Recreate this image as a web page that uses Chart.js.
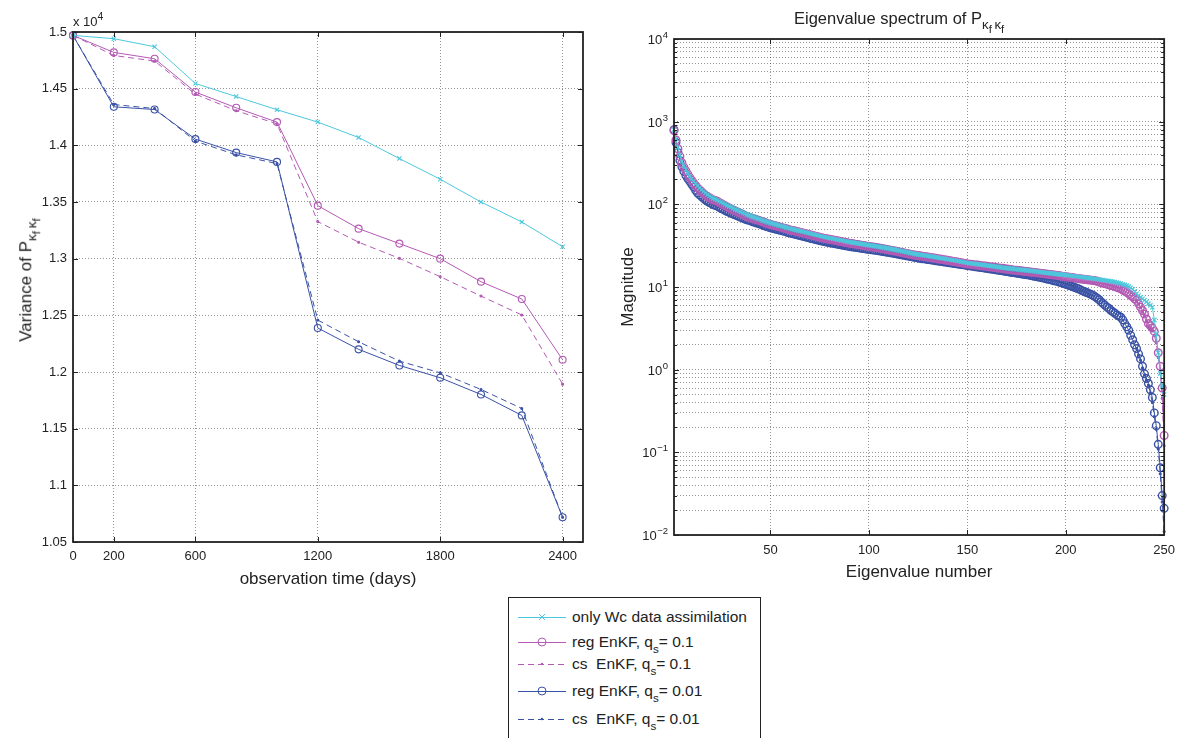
<!DOCTYPE html>
<html>
<head>
<meta charset="utf-8">
<title>Variance and eigenvalue spectrum of P</title>
<script src="https://cdn.jsdelivr.net/npm/chart.js@4.4.1/dist/chart.umd.min.js"></script>
<style>
  body { margin: 0; background: #fff; font-family: "Liberation Sans", Arial, sans-serif; color: #222; }
  #page { position: relative; width: 1183px; height: 738px; overflow: hidden; }
  canvas { position: absolute; top: 0; }
  #leftChart { left: 0; }
  #rightChart { left: 600px; }
  .txt { position: absolute; white-space: nowrap; line-height: 1; }
  .txt sub { font-size: 80%; vertical-align: -0.4em; line-height: 0; }
  .txt sub sub { font-size: 85%; vertical-align: -0.35em; }
  .txt sup { font-size: 80%; vertical-align: 0.6em; line-height: 0; }
  #legend { position: absolute; left: 508px; top: 597px; width: 251px; height: 160px; border: 1px solid #222; background: #fff; }
  #legend .row { position: absolute; left: 9px; height: 20px; display: flex; align-items: center; font-size: 15.5px; white-space: nowrap; }
  #legend .row svg { margin-right: 6px; }
  #legend sub { font-size: 75%; vertical-align: -0.55em; line-height: 0; }
</style>
</head>
<body>
<div id="page">
  <canvas id="leftChart" width="600" height="600"></canvas>
  <canvas id="rightChart" width="583" height="600"></canvas>
  <div class="txt" style="left:73px; top:15px; font-size:13px;">x 10<sup>4</sup></div>
  <div class="txt" style="left:27px; top:280px; font-size:17px; transform:translate(-50%,-50%) rotate(-90deg);">Variance of P<sub>&kappa;<sub>f</sub>&thinsp;&kappa;<sub>f</sub></sub></div>
  <div class="txt" style="left:794px; top:10px; font-size:16.5px;">Eigenvalue spectrum of P<sub>&kappa;<sub>f</sub>&thinsp;&kappa;<sub>f</sub></sub></div>
  <div id="legend"></div>
</div>

<script>
// ---- left panel: variance vs observation time (values in units of 10^4) ----
var obsDays = [0, 200, 400, 600, 800, 1000, 1200, 1400, 1600, 1800, 2000, 2200, 2400];
var varOnlyWc = [1.497, 1.4941, 1.487, 1.4546, 1.443, 1.4314, 1.4205, 1.4069, 1.3883, 1.3701, 1.350, 1.3324, 1.3105];
var varRegQ1  = [1.497, 1.482, 1.4764, 1.447, 1.4331, 1.4205, 1.3468, 1.3265, 1.3133, 1.300, 1.2797, 1.2644, 1.2108];
var varCsQ1   = [1.497, 1.4793, 1.4744, 1.4452, 1.4305, 1.419, 1.3327, 1.3145, 1.3003, 1.2841, 1.267, 1.2503, 1.1893];
var varRegQ01 = [1.497, 1.434, 1.4316, 1.4055, 1.3936, 1.3854, 1.2388, 1.22, 1.2058, 1.1949, 1.1802, 1.1617, 1.0718];
var varCsQ01  = [1.497, 1.436, 1.4325, 1.4037, 1.3916, 1.3839, 1.2458, 1.2267, 1.2096, 1.1993, 1.1846, 1.1678, 1.0718];
var dayTicks = [0, 200, 600, 1200, 1800, 2400];
var varTicks = [1.05, 1.1, 1.15, 1.2, 1.25, 1.3, 1.35, 1.4, 1.45, 1.5];

// ---- right panel: eigenvalue spectrum, eigenvalue number 1..250 ----
var eigOnlyWc = [
  800,620,490,395,330,292,264,240,220,204,
  190,178,168,158,150,143,137,131,126,122,
  118,115,112,109,106,103,100,97,94.5,92,
  89.5,87,85,83,81,79,77,75,73.5,72,
  70.5,69,68,66.5,65.5,64,63,61.5,60.5,59.5,
  58.6,57.7,56.8,55.9,55,54.2,53.4,52.6,51.8,51,
  50.4,49.7,49.1,48.4,47.8,47.2,46.5,45.9,45.3,44.7,
  44.1,43.5,42.9,42.3,41.7,41.1,40.5,40.1,39.6,39.2,
  38.7,38.3,37.8,37.4,37,36.6,36.2,35.8,35.4,35,
  34.7,34.4,34.1,33.8,33.5,33.2,32.9,32.6,32.3,32,
  31.7,31.5,31.2,31,30.7,30.4,30.1,29.8,29.5,29.2,
  28.9,28.6,28.3,28,27.7,27.4,27.1,26.8,26.5,26.2,
  25.9,25.6,25.3,25,24.8,24.6,24.4,24.2,24,23.8,
  23.6,23.4,23.2,23,22.8,22.5,22.3,22.1,21.9,21.7,
  21.5,21.3,21.1,20.9,20.7,20.5,20.3,20,19.8,19.5,
  19.4,19.3,19.1,19,18.9,18.7,18.6,18.5,18.3,18.2,
  18.1,17.9,17.8,17.7,17.5,17.4,17.3,17.1,17,16.9,
  16.8,16.7,16.6,16.5,16.4,16.3,16.2,16.1,16,15.9,
  15.8,15.7,15.6,15.5,15.4,15.3,15.2,15.1,15,14.9,
  14.8,14.7,14.6,14.5,14.4,14.3,14.2,14.15,14.1,14,
  13.9,13.8,13.7,13.6,13.5,13.4,13.3,13.2,13.1,13,
  12.9,12.8,12.7,12.6,12.5,12.4,12.3,12.2,12.1,12,
  11.9,11.8,11.7,11.6,11.5,11.3,11.2,11,10.8,10.6,
  10.4,10.1,9.8,9.4,8.9,8.3,7.9,7.5,7.2,6.9,
  6.6,6.3,6,5.7,4,2.7,1.6,0.9,0.65,0.5
];
var eigRegQ1 = [
  780,600,470,380,318,282,255,232,212,196,
  182,169,158,149,142,135,129,124,120,116,
  113,111,109,105,102,99,96,93,90.5,88,
  85.5,83.5,81.5,79.5,77.5,75.5,73,71,70,69,
  67.5,66.5,65,64,63,61.5,60.5,59,58,57,
  56.2,55.4,54.6,53.8,53,52.2,51.4,50.6,49.8,49,
  48.4,47.8,47.2,46.6,46,45.4,44.8,44.2,43.6,43,
  42.4,41.8,41.2,40.6,40,39.5,39,38.6,38.2,37.8,
  37.4,37,36.6,36.2,35.8,35.4,35,34.6,34.2,33.9,
  33.6,33.3,33,32.7,32.4,32.1,31.8,31.5,31.2,30.9,
  30.6,30.4,30.2,30,29.7,29.4,29.1,28.8,28.5,28.2,
  27.9,27.6,27.3,27,26.7,26.4,26.1,25.8,25.5,25.2,
  24.9,24.6,24.4,24.2,24,23.8,23.6,23.4,23.2,23,
  22.8,22.6,22.4,22.2,22,21.8,21.6,21.4,21.2,21,
  20.8,20.6,20.4,20.2,20,19.8,19.6,19.4,19.2,19,
  18.9,18.8,18.6,18.5,18.4,18.3,18.1,18,17.9,17.8,
  17.6,17.5,17.4,17.3,17.1,17,16.9,16.8,16.6,16.5,
  16.4,16.3,16.1,16,15.9,15.8,15.7,15.6,15.5,15.4,
  15.3,15.2,15.1,15,14.9,14.8,14.7,14.6,14.5,14.4,
  14.3,14.2,14.1,14,13.9,13.8,13.7,13.5,13.4,13.3,
  13.2,13.1,13,12.9,12.8,12.7,12.6,12.5,12.4,12.3,
  12.2,12.15,12.1,12,11.9,11.7,11.5,11.3,11.1,11,
  10.8,10.6,10.4,10.3,10.1,9.9,9.7,9.5,9.2,8.9,
  8.6,8.3,7.9,7.6,7.2,6.9,6.3,5.7,5.2,4.7,
  4.1,3.6,3.4,3.2,2.9,2.4,1.6,1.1,0.6,0.16
];
var eigRegQ01 = [
  800,560,425,340,285,250,225,205,190,175,
  162,148,137,130,124,118,113,109,105,102,
  99,97,95,92,89,87,84,82,80,78,
  76,74.5,73,71,69.5,68,66.5,65,64,63,
  61.5,60.5,59.5,58.5,57.5,56,55,54,53,52,
  51.3,50.6,49.9,49.2,48.5,47.8,47.1,46.4,45.7,45,
  44.4,43.8,43.2,42.6,42,41.4,40.8,40.2,39.6,39,
  38.5,38,37.5,37,36.5,36,35.6,35.2,34.8,34.4,
  34,33.7,33.3,33,32.6,32.3,32,31.6,31.3,31,
  30.7,30.5,30.2,30,29.7,29.5,29.2,29,28.7,28.5,
  28.3,28.1,27.9,27.7,27.4,27.2,26.9,26.7,26.4,26.2,
  25.9,25.7,25.4,25.2,24.9,24.7,24.4,24.2,23.9,23.7,
  23.4,23.2,22.9,22.7,22.4,22.2,22,21.9,21.7,21.5,
  21.4,21.2,21,20.8,20.7,20.5,20.3,20.1,20,19.8,
  19.6,19.5,19.3,19.2,19,18.9,18.7,18.6,18.4,18.2,
  18.1,17.9,17.8,17.6,17.5,17.3,17.2,17.1,16.9,16.8,
  16.6,16.5,16.4,16.2,16.1,15.9,15.8,15.7,15.5,15.4,
  15.3,15.1,15,14.9,14.7,14.6,14.5,14.3,14.2,14.1,
  14,13.8,13.7,13.5,13.4,13.2,13.1,12.9,12.8,12.6,
  12.4,12.3,12.1,11.9,11.8,11.6,11.4,11.2,11,10.8,
  10.6,10.4,10.2,10,9.8,9.6,9.4,9.1,8.9,8.7,
  8.5,8.3,8.1,7.9,7.6,7.3,7,6.6,6.3,6,
  5.7,5.5,5.2,5,4.8,4.6,4.45,4.3,4,3.6,
  3.3,3,2.6,2.3,2,1.8,1.55,1.35,1.1,0.89,
  0.78,0.68,0.57,0.46,0.3,0.21,0.125,0.065,0.03,0.021
];
// the dashed cs curves only separate from the reg ones in the last few eigenvalues
var csTailIdx = [236, 237, 238, 239, 240, 241, 242, 243, 244, 245, 246, 247, 248, 249, 250];
var eigCsQ1Tail  = [6.8, 6.2, 5.6, 5.0, 4.5, 3.9, 3.4, 3.2, 3.0, 2.6, 2.1, 1.4, 0.9, 0.45, 0.12];
var eigCsQ01Tail = [1.8, 1.5, 1.3, 1.05, 0.86, 0.75, 0.65, 0.52, 0.40, 0.27, 0.19, 0.11, 0.055, 0.025, 0.011];
var eigTicks = [50, 100, 150, 200, 250];
var decadeExps = [-2, -1, 0, 1, 2, 3, 4];

var seriesNames = [
  'only Wc data assimilation',
  'reg EnKF, q<sub>s</sub>= 0.1',
  'cs&nbsp; EnKF, q<sub>s</sub>= 0.1',
  'reg EnKF, q<sub>s</sub>= 0.01',
  'cs&nbsp; EnKF, q<sub>s</sub>= 0.01'
];

var CYAN = '#4cc8dc';
var MAGENTA = '#b45ab4';
var BLUE = '#3a52a6';
var FONT = '"Liberation Sans", Arial, sans-serif';
var GRID = 'rgba(0,0,0,0.42)';

function toPoints(xs, ys) {
    return ys.map(function(y, i) { return {x: xs[i], y: y}; });
}

var eigIdx = eigRegQ01.map(function(v, i) { return i + 1; });

function makeSet(points, color, dashed, style, radius, markerWidth) {
    return {
        data: points,
        borderColor: color,
        backgroundColor: 'rgba(0,0,0,0)',
        borderWidth: 1,
        borderDash: dashed ? [6, 4] : [],
        pointStyle: style,
        pointRadius: radius,
        pointBorderColor: color,
        pointBackgroundColor: style === 'circle' && radius < 2 ? color : 'rgba(0,0,0,0)',
        pointBorderWidth: markerWidth || 1.1,
        tension: 0,
        fill: false,
        clip: false
    };
}

function isDecade(v) {
    var e = Math.log10(v);
    return Math.abs(e - Math.round(e)) < 1e-6;
}

// box around the axes with inward tick marks, the way the original plot has it
var framePlugin = {
    id: 'frame',
    afterDraw: function(chart) {
        var ctx = chart.ctx, a = chart.chartArea, sx = chart.scales.x, sy = chart.scales.y;
        var isLog = sy.type === 'logarithmic';
        ctx.save();
        ctx.strokeStyle = '#222';
        ctx.lineWidth = 1;
        ctx.beginPath();
        sx.ticks.forEach(function(t) {
            var px = Math.round(sx.getPixelForValue(t.value)) + 0.5;
            ctx.moveTo(px, a.bottom); ctx.lineTo(px, a.bottom - 5);
            ctx.moveTo(px, a.top); ctx.lineTo(px, a.top + 5);
        });
        sy.ticks.forEach(function(t) {
            var py = Math.round(sy.getPixelForValue(t.value)) + 0.5;
            var len = (!isLog || isDecade(t.value)) ? 5 : 3;
            ctx.moveTo(a.left, py); ctx.lineTo(a.left + len, py);
            ctx.moveTo(a.right, py); ctx.lineTo(a.right - len, py);
        });
        ctx.stroke();
        ctx.lineWidth = 1.8;
        ctx.strokeRect(a.left, a.top, a.right - a.left, a.bottom - a.top);
        ctx.restore();
    }
};

// "10" with a raised exponent for the log axis labels
var powerLabelPlugin = {
    id: 'powerLabels',
    afterDraw: function(chart) {
        var ctx = chart.ctx, a = chart.chartArea, sy = chart.scales.y;
        ctx.save();
        ctx.fillStyle = '#222';
        ctx.textAlign = 'right';
        ctx.textBaseline = 'alphabetic';
        decadeExps.forEach(function(e) {
            var py = sy.getPixelForValue(Math.pow(10, e));
            var expText = e < 0 ? '\u2212' + (-e) : String(e);
            ctx.font = '9.5px ' + FONT;
            var ew = ctx.measureText(expText).width;
            var right = a.left - 6;
            ctx.fillText(expText, right, py - 1);
            ctx.font = '13px ' + FONT;
            ctx.fillText('10', right - ew - 0.5, py + 5);
        });
        ctx.restore();
    }
};

var tickFont = {family: FONT, size: 13};
var titleFont = {family: FONT, size: 17};

// Left: variance of P over observation time
new Chart(document.getElementById('leftChart'), {
    type: 'line',
    data: {
        datasets: [
            makeSet(toPoints(obsDays, varOnlyWc), CYAN, false, 'crossRot', 3),
            makeSet(toPoints(obsDays, varRegQ1), MAGENTA, false, 'circle', 3.5),
            makeSet(toPoints(obsDays, varCsQ1), MAGENTA, true, 'circle', 1),
            makeSet(toPoints(obsDays, varRegQ01), BLUE, false, 'circle', 3.5),
            makeSet(toPoints(obsDays, varCsQ01), BLUE, true, 'circle', 1)
        ]
    },
    options: {
        responsive: false,
        animation: false,
        layout: {padding: {top: 32, right: 17, left: 0, bottom: 0}},
        plugins: {legend: {display: false}, tooltip: {enabled: false}},
        scales: {
            x: {
                type: 'linear', min: 0, max: 2500,
                afterBuildTicks: function(s) { s.ticks = dayTicks.map(function(v) { return {value: v}; }); },
                afterFit: function(s) { s.height = 58; },
                grid: {color: GRID, lineWidth: 1, drawTicks: false},
                border: {display: false, dash: [1, 2]},
                ticks: {padding: 7, color: '#222', font: tickFont, maxRotation: 0, autoSkip: false,
                        callback: function(v) { return String(v); }},
                title: {display: true, text: 'observation time (days)', color: '#222', font: titleFont,
                        padding: {top: 0, bottom: 10}}
            },
            y: {
                type: 'linear', min: 1.05, max: 1.5,
                afterBuildTicks: function(s) { s.ticks = varTicks.map(function(v) { return {value: v}; }); },
                afterFit: function(s) { s.width = 73; },
                grid: {color: GRID, lineWidth: 1, drawTicks: false},
                border: {display: false, dash: [1, 2]},
                ticks: {padding: 6, color: '#222', font: tickFont, autoSkip: false,
                        callback: function(v) { return String(+v.toFixed(2)); }}
            }
        }
    },
    plugins: [framePlugin]
});

// Right: eigenvalue spectrum on a log axis
var logTicks = [];
decadeExps.forEach(function(e, k) {
    if (k === decadeExps.length - 1) { logTicks.push(Math.pow(10, e)); return; }
    for (var m = 1; m <= 9; m++) logTicks.push(m * Math.pow(10, e));
});

new Chart(document.getElementById('rightChart'), {
    type: 'line',
    data: {
        datasets: [
            makeSet(toPoints(eigIdx, eigOnlyWc), CYAN, false, 'crossRot', 3, 1.2),
            makeSet(toPoints(csTailIdx, eigCsQ1Tail), MAGENTA, true, 'circle', 1),
            makeSet(toPoints(eigIdx, eigRegQ1), MAGENTA, false, 'circle', 3.8, 1.4),
            makeSet(toPoints(csTailIdx, eigCsQ01Tail), BLUE, true, 'circle', 1),
            makeSet(toPoints(eigIdx, eigRegQ01), BLUE, false, 'circle', 3.8, 1.4)
        ]
    },
    options: {
        responsive: false,
        animation: false,
        layout: {padding: {top: 39, right: 13, left: 0, bottom: 0}},
        plugins: {legend: {display: false}, tooltip: {enabled: false}},
        scales: {
            x: {
                type: 'linear', min: 1, max: 250,
                afterBuildTicks: function(s) { s.ticks = eigTicks.map(function(v) { return {value: v}; }); },
                afterFit: function(s) { s.height = 65; },
                grid: {color: GRID, lineWidth: 1, drawTicks: false},
                border: {display: false, dash: [1, 2]},
                ticks: {padding: 8, color: '#222', font: tickFont, maxRotation: 0, autoSkip: false,
                        callback: function(v) { return String(v); }},
                title: {display: true, text: 'Eigenvalue number', color: '#222', font: titleFont,
                        padding: {top: 0, bottom: 17}}
            },
            y: {
                type: 'logarithmic', min: 0.01, max: 10000,
                afterBuildTicks: function(s) { s.ticks = logTicks.map(function(v) { return {value: v}; }); },
                afterFit: function(s) { s.width = 74; },
                grid: {color: GRID, lineWidth: 1, drawTicks: false},
                border: {display: false, dash: [1, 2]},
                ticks: {display: false},
                title: {display: true, text: 'Magnitude', color: '#222', font: titleFont,
                        padding: {top: 18, bottom: 0}}
            }
        }
    },
    plugins: [framePlugin, powerLabelPlugin]
});

// Legend box under the left panel
var legendStyles = [
    {color: CYAN, dashed: false, marker: 'x'},
    {color: MAGENTA, dashed: false, marker: 'o'},
    {color: MAGENTA, dashed: true, marker: '.'},
    {color: BLUE, dashed: false, marker: 'o'},
    {color: BLUE, dashed: true, marker: '.'}
];
var legendRowTops = [9, 34, 56, 83, 111];
var legend = document.getElementById('legend');
seriesNames.forEach(function(name, i) {
    var st = legendStyles[i];
    var mark = '';
    if (st.marker === 'x') mark = '<path d="M21 4 L27 10 M27 4 L21 10" stroke="' + st.color + '" stroke-width="1"/>';
    if (st.marker === 'o') mark = '<circle cx="24" cy="7" r="4" fill="none" stroke="' + st.color + '" stroke-width="1"/>';
    if (st.marker === '.') mark = '<circle cx="24" cy="7" r="1.2" fill="' + st.color + '"/>';
    var svg = '<svg width="48" height="14"><line x1="0" y1="7.5" x2="48" y2="7.5" stroke="' + st.color +
        '" stroke-width="1"' + (st.dashed ? ' stroke-dasharray="6 4"' : '') + '/>' + mark + '</svg>';
    var row = document.createElement('div');
    row.className = 'row';
    row.style.top = legendRowTops[i] + 'px';
    row.innerHTML = svg + '<span>' + name + '</span>';
    legend.appendChild(row);
});
</script>
</body>
</html>
